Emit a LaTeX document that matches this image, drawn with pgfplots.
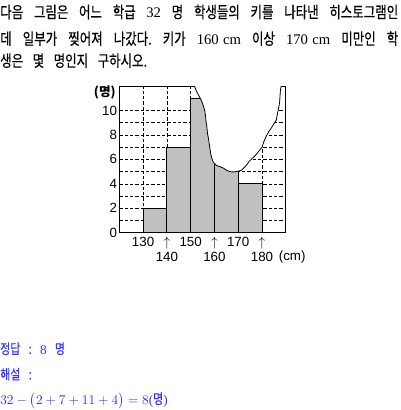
\documentclass[border=0pt]{standalone}
\usepackage{pgfplots}
\pgfplotsset{compat=1.18}
\usepackage{fontspec}
\setmainfont{Liberation Serif}
\setsansfont{Liberation Sans}
\newfontfamily\kr[FakeStretch=0.78, WordSpace=3.4, FakeBold=0.4]{Noto Sans CJK KR}
\newfontfamily\krb{Noto Sans CJK KR}
\definecolor{ansblue}{RGB}{51,51,255}
\definecolor{bargray}{RGB}{192,192,192}
\frenchspacing
\begin{document}
\begin{tikzpicture}[x=1pt,y=1pt]
\path[use as bounding box] (0,0) rectangle (300,-307.5);
% question text
\node[anchor=base west, inner sep=0] at (0,-13.5) {\fontsize{12}{12}\selectfont\makebox[298.5pt][s]{\kr 다음 그림은 어느 학급 {\rmfamily\fontsize{11}{12}\selectfont 32} 명 학생들의 키를 나타낸 히스토그램인}};
\node[anchor=base west, inner sep=0] at (0,-33.5) {\fontsize{12}{12}\selectfont\makebox[298.5pt][s]{\kr 데 일부가 찢어져 나갔다. 키가 {\rmfamily\fontsize{11}{12}\selectfont 160 cm} 이상 {\rmfamily\fontsize{11}{12}\selectfont 170 cm} 미만인 학}};
\node[anchor=base west, inner sep=0] at (0,-50) {\fontsize{12}{12}\selectfont\kr 생은 몇 명인지 구하시오.};
% answer text
\node[anchor=base west, inner sep=0, text=ansblue] at (0,-265.5) {\fontsize{10.5}{11}\selectfont\kr 정답 : {\rmfamily\fontsize{10}{11}\selectfont 8} 명};
\node[anchor=base west, inner sep=0, text=ansblue] at (0,-284.6) {\fontsize{10.5}{11}\selectfont\kr 해설 :};
\node[anchor=base west, inner sep=0, text=ansblue] at (0,-303) {\fontsize{10}{12}\selectfont $32-\bigl(2+7+11+4\bigr)=8$({\fontsize{10.5}{11}\selectfont\kr 명})};
\begin{axis}[
  at={(89.5pt,-64.5pt)}, anchor=north west,
  scale only axis, width=124.8pt, height=110pt,
  xmin=120, xmax=190, ymin=0, ymax=12,
  axis line style={black, line width=0.7pt},
  xtick={130,140,...,180},
  xticklabels={130,,150,,170,},
  extra x ticks={140,160,180},
  extra x tick labels={{\shortstack{$\uparrow$\\[-1pt]140}},{\shortstack{$\uparrow$\\[-1pt]160}},{\shortstack{$\uparrow$\\[-1pt]180}}},
  extra x tick style={grid=none},
  ytick={0,2,...,10},
  minor y tick num=1,
  major tick length=0pt, minor tick length=0pt,
  xmajorgrids, ymajorgrids, yminorgrids,
  grid style={black, line width=0.4pt, dash pattern=on 2.5pt off 1.5pt},
  minor grid style={black, line width=0.4pt, dash pattern=on 2.5pt off 1.5pt},
  ticklabel style={font=\fontsize{10}{11}\selectfont\sffamily},
  /pgf/number format/assume math mode=true,
  xticklabel style={inner sep=1.5pt, yshift=-1.8pt},
  yticklabel style={inner sep=1.5pt},
  xlabel={(cm)},
  every axis x label/.style={at={(axis cs:187,0)}, anchor=west, yshift=-18.5pt, font=\fontsize{10}{11}\selectfont\sffamily, inner sep=0pt},
  ylabel={{\krb\bfseries (명)}},
  every axis y label/.style={at={(axis cs:120,11.5)}, anchor=east, xshift=-2.5pt, font=\fontsize{9.5}{11}\selectfont\bfseries, inner sep=0pt},
  clip=false,
]
\addplot[ybar interval, fill=bargray, draw=black, line width=0.6pt] coordinates {
  (130,2) (140,7) (150,11) (160,8) (170,4) (180,4)
};
% torn-away part (white) and its edge
\addplot[fill=white, draw=none] coordinates {
  (151.5,12.2) (151.6,12) (152.2,11.7) (152.9,11.4) (153.6,11.15) (154.3,10.9) (155,10.6)
  (155.6,10.2) (156,9.9) (156.3,9.5) (156.4,9.2) (156.8,8.7) (157.1,8.1) (157.5,7.7)
  (157.8,7.3) (158.1,6.9) (158.5,6.4) (158.9,6.1) (159.4,5.8) (160.1,5.65) (160.8,5.5)
  (162.1,5.42) (163.6,5.3) (165,5.12) (166.4,5.0) (167.8,4.97) (169.2,5.0) (170.3,5.05)
  (171.3,5.1) (172.4,5.3) (173.4,5.5) (174.5,5.8) (175.5,6.0) (176.6,6.2) (177.6,6.4)
  (178.8,6.7) (180,7.0) (180.9,7.5) (181.8,7.9) (182.8,8.25) (183.9,8.55) (185,8.9)
  (186,9.2) (186.5,9.7) (187,10.2) (187.4,10.6) (187.6,11.2) (187.8,11.7) (188.1,12) (188.2,12.2)
};
\addplot[black, line width=0.6pt] coordinates {
  (151.6,12) (152.2,11.7) (152.9,11.4) (153.6,11.15) (154.3,10.9) (155,10.6)
  (155.6,10.2) (156,9.9) (156.3,9.5) (156.4,9.2) (156.8,8.7) (157.1,8.1) (157.5,7.7)
  (157.8,7.3) (158.1,6.9) (158.5,6.4) (158.9,6.1) (159.4,5.8) (160.1,5.65) (160.8,5.5)
  (162.1,5.42) (163.6,5.3) (165,5.12) (166.4,5.0) (167.8,4.97) (169.2,5.0) (170.3,5.05)
  (171.3,5.1) (172.4,5.3) (173.4,5.5) (174.5,5.8) (175.5,6.0) (176.6,6.2) (177.6,6.4)
  (178.8,6.7) (180,7.0) (180.9,7.5) (181.8,7.9) (182.8,8.25) (183.9,8.55) (185,8.9)
  (186,9.2) (186.5,9.7) (187,10.2) (187.4,10.6) (187.6,11.2) (187.8,11.7) (188.1,12)
};
\end{axis}
\end{tikzpicture}
\end{document}
